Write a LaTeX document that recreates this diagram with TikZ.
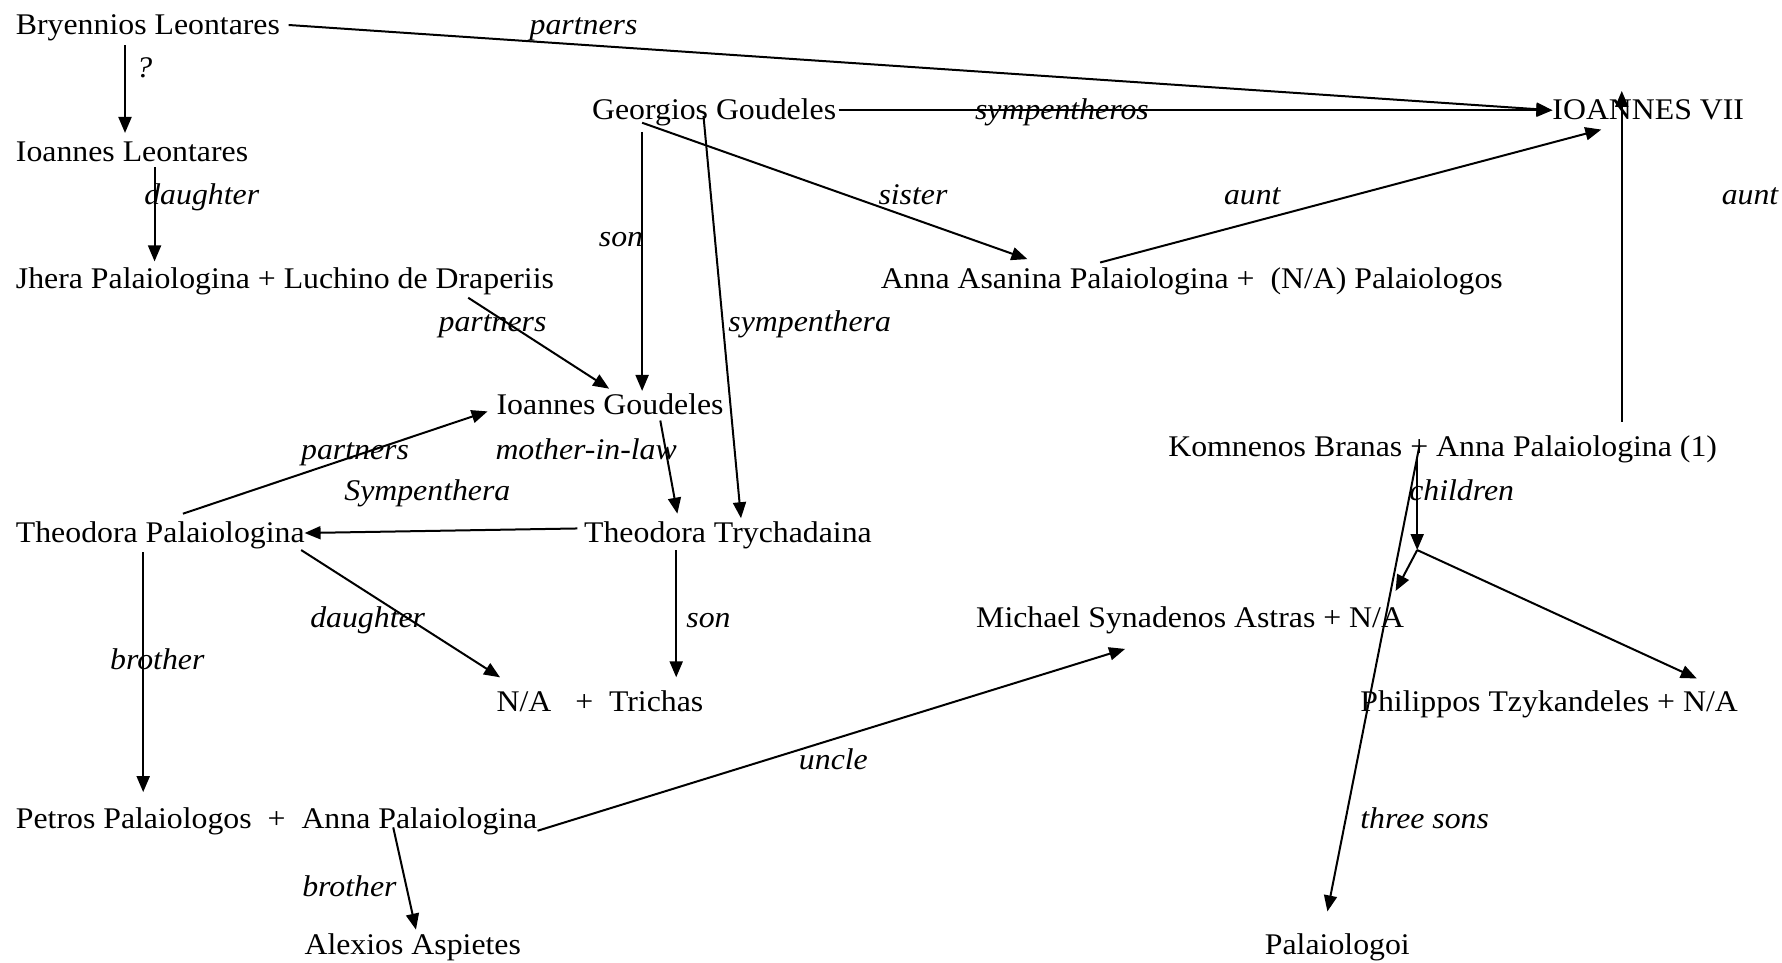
\documentclass[tikz,border=0pt]{standalone}
\usepackage{fontspec}
\setmainfont{Liberation Serif}[FakeStretch=1.06]
\usetikzlibrary{arrows.meta}
\begin{document}
\begin{tikzpicture}[x=1.1365pt,y=-1.1365pt,
  person/.style={anchor=base west,inner sep=0pt,outer sep=0pt,font=\fontsize{30}{36}\selectfont},
  rel/.style={anchor=base west,inner sep=0pt,outer sep=0pt,font=\fontsize{30}{36}\selectfont\itshape},
  link/.style={line width=2pt,-{Triangle[length=16pt,width=13pt]}}]
\useasboundingbox (0,0) rectangle (1568,847);
% people
\node[person] (bl) at (14,30) {Bryennios Leontares};
\node[person] (il) at (14,142) {Ioannes Leontares};
\node[person] (jh) at (14,254) {Jhera Palaiologina + Luchino de Draperiis};
\node[person] (gg) at (521,105) {Georgios Goudeles};
\node[person] (j7) at (1366,105) {IOANNES VII};
\node[person] (aa) at (775,254) {Anna Asanina Palaiologina +\ \ (N/A) Palaiologos};
\node[person] (ig) at (437,365) {Ioannes Goudeles};
\node[person] (kb) at (1028,402) {Komnenos Branas + Anna Palaiologina (1)};
\node[person] (tp) at (14,477) {Theodora Palaiologina};
\node[person] (tt) at (514,477) {Theodora Trychadaina};
\node[person] (ms) at (859,552) {Michael Synadenos Astras + N/A};
\node[person] (nt) at (437,626) {N/A\ \ \ +\ \ Trichas};
\node[person] (pt) at (1197,626) {Philippos Tzykandeles + N/A};
\node[person] (pp) at (14,729) {Petros Palaiologos\ \ +\ \ Anna Palaiologina};
\node[person] (ax) at (268,840) {Alexios Aspietes};
\node[person] (po) at (1113,840) {Palaiologoi};
\coordinate (jn) at (1247,484);
% connectors
\draw[link] ([shift={(240,-8)}]bl.base west) -- ([shift={(0,-8)}]j7.base west);
\draw[link] ([shift={(96,10)}]bl.base west) -- ([shift={(96,-25)}]il.base west);
\draw[link] ([shift={(122,5)}]il.base west) -- ([shift={(122,-24)}]jh.base west);
\draw[link] ([shift={(217,-8)}]gg.base west) -- ([shift={(0,-8)}]j7.base west);
\draw[link] ([shift={(44,3)}]gg.base west) -- ([shift={(129,-26)}]aa.base west);
\draw[link] ([shift={(193,-23)}]aa.base west) -- ([shift={(43,9)}]j7.base west);
\draw[link] ([shift={(399,-31)}]kb.base west) -- ([shift={(61,-25)}]j7.base west);
\draw[link] ([shift={(44,11)}]gg.base west) -- ([shift={(128,-21)}]ig.base west);
\draw[link] ([shift={(98,-3)}]gg.base west) -- ([shift={(138,-21)}]tt.base west);
\draw[link] ([shift={(398,8)}]jh.base west) -- ([shift={(99,-23)}]ig.base west);
\draw[link] ([shift={(147,-25)}]tp.base west) -- ([shift={(-8,-3)}]ig.base west);
\draw[link] ([shift={(144,5)}]ig.base west) -- ([shift={(82,-25)}]tt.base west);
\draw[link] ([shift={(-6,-12)}]tt.base west) -- ([shift={(254,-8)}]tp.base west);
\draw[link] ([shift={(251,7)}]tp.base west) -- ([shift={(3,-30)}]nt.base west);
\draw[link] ([shift={(81,7)}]tt.base west) -- ([shift={(158,-30)}]nt.base west);
\draw[link] ([shift={(112,9)}]tp.base west) -- ([shift={(112,-32)}]pp.base west);
\draw[link] ([shift={(459,2)}]pp.base west) -- ([shift={(131,19)}]ms.base west);
\draw[link] ([shift={(332,-1)}]pp.base west) -- ([shift={(98,-22)}]ax.base west);
\draw[link] ([shift={(219,0)}]kb.base west) -- (jn);
\draw[link] (jn) -- ([shift={(369,-32)}]ms.base west);
\draw[link] (jn) -- ([shift={(296,-29)}]pt.base west);
\draw[link] ([shift={(221,-10)}]kb.base west) -- ([shift={(55,-38)}]po.base west);
% labels
\node[rel] (l1) at (466,30) {partners};
\node[rel] (l2) at (120,68) {?};
\node[rel] (l3) at (127,180) {daughter};
\node[rel] (l4) at (858,105) {sympentheros};
\node[rel] (l5) at (773,180) {sister};
\node[rel] (l6) at (1077,180) {aunt};
\node[rel] (l7) at (1515,180) {aunt};
\node[rel] (l8) at (527,217) {son};
\node[rel] (l9) at (386,292) {partners};
\node[rel] (l10) at (641,292) {sympenthera};
\node[rel] (l11) at (265,404) {partners};
\node[rel] (l12) at (436,404) {mother-in-law};
\node[rel] (l13) at (303,440) {Sympenthera};
\node[rel] (l14) at (1240,440) {children};
\node[rel] (l15) at (273,552) {daughter};
\node[rel] (l16) at (604,552) {son};
\node[rel] (l17) at (97,589) {brother};
\node[rel] (l18) at (703,677) {uncle};
\node[rel] (l19) at (1197,729) {three sons};
\node[rel] (l20) at (266,789) {brother};
\end{tikzpicture}
\end{document}
